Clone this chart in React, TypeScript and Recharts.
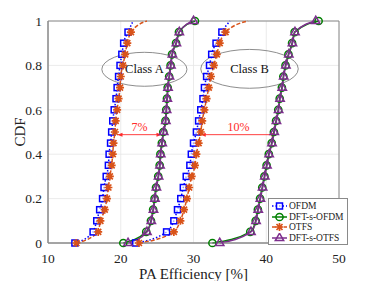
import React from 'react';
import { LineChart, Line, XAxis, YAxis, CartesianGrid, ReferenceArea, ReferenceLine, Legend } from 'recharts';

// CDF levels shared by every curve
const cdfLevels = [0, 0.05, 0.1, 0.15, 0.2, 0.25, 0.3, 0.35, 0.4, 0.45, 0.5, 0.55, 0.6, 0.65, 0.7, 0.75, 0.8, 0.85, 0.9, 0.95, 1];

// PA efficiency [%], class A
const ofdmClassA = [13.7, 16.2, 16.7, 17.1, 17.5, 17.7, 18.0, 18.3, 18.4, 18.6, 18.75, 18.9, 19.1, 19.35, 19.5, 19.7, 19.9, 20.15, 20.4, 21.0, 21.7];
const otfsClassA = [13.9, 16.9, 17.2, 17.8, 18.1, 18.3, 18.5, 18.75, 18.9, 19.0, 19.2, 19.3, 19.5, 19.7, 19.9, 20.0, 20.3, 20.6, 20.9, 21.4, 23.6];
const dftsOfdmClassA = [20.35, 23.5, 24.15, 24.45, 24.65, 24.85, 25.15, 25.35, 25.45, 25.65, 25.85, 26.15, 26.25, 26.35, 26.45, 26.65, 26.85, 27.05, 27.6, 28.0, 30.2];
const dftsOtfsClassA = [21.0, 23.6, 24.2, 24.5, 24.7, 24.9, 25.2, 25.4, 25.5, 25.7, 25.9, 26.2, 26.3, 26.4, 26.5, 26.7, 26.9, 27.1, 27.65, 28.05, 30.0];

// class B
const ofdmClassB = [22.05, 26.3, 27.3, 27.8, 28.25, 28.6, 29.0, 29.5, 29.7, 30.0, 30.4, 30.7, 31.0, 31.3, 31.5, 31.8, 32.2, 32.5, 33.1, 33.9, 35.0];
const otfsClassB = [22.5, 27.3, 28.2, 28.7, 29.1, 29.4, 29.75, 30.2, 30.4, 30.7, 31.0, 31.2, 31.5, 31.8, 32.1, 32.4, 32.8, 33.2, 33.6, 34.4, 37.5];
const dftsOfdmClassB = [32.6, 37.8, 38.55, 38.85, 39.15, 39.45, 39.75, 40.05, 40.35, 40.75, 41.05, 41.35, 41.65, 41.85, 42.15, 42.35, 42.65, 43.05, 43.55, 43.9, 47.2];
const dftsOtfsClassB = [33.6, 37.9, 38.6, 38.9, 39.2, 39.5, 39.8, 40.1, 40.4, 40.8, 41.1, 41.4, 41.7, 41.9, 42.2, 42.4, 42.7, 43.1, 43.6, 43.95, 46.8];

const xTicks = [10, 20, 30, 40, 50];
const yTicks = [0, 0.2, 0.4, 0.6, 0.8, 1];

const FONT = 'Liberation Serif, Tinos, Times New Roman, DejaVu Serif, serif';
const RED = '#ff2b2b';
const AXIS = '#8a8a8a';

type MarkerKind = 'square' | 'circle' | 'star' | 'triangle';

const SERIES = [
  { name: 'OFDM', color: '#0000ff', marker: 'square' as MarkerKind, dash: '1.5 2', openEnd: true, classA: ofdmClassA, classB: ofdmClassB },
  { name: 'DFT-s-OFDM', color: '#008000', marker: 'circle' as MarkerKind, dash: undefined, openEnd: false, classA: dftsOfdmClassA, classB: dftsOfdmClassB },
  { name: 'OTFS', color: '#d95319', marker: 'star' as MarkerKind, dash: '4 2', openEnd: true, classA: otfsClassA, classB: otfsClassB },
  { name: 'DFT-s-OTFS', color: '#7e2f8e', marker: 'triangle' as MarkerKind, dash: undefined, openEnd: false, classA: dftsOtfsClassA, classB: dftsOtfsClassB },
];

const Marker = ({ kind, cx, cy, color }: { kind: MarkerKind; cx: number; cy: number; color: string }) => {
  if (kind === 'square') {
    return <rect x={cx - 3} y={cy - 3} width={6} height={6} fill="#fff" fillOpacity={0.6} stroke={color} strokeWidth={1.5} />;
  }
  if (kind === 'circle') {
    return <circle cx={cx} cy={cy} r={3.6} fill="none" stroke={color} strokeWidth={1.5} />;
  }
  if (kind === 'star') {
    return (
      <path
        d={`M${cx - 4},${cy}H${cx + 4}M${cx},${cy - 4}V${cy + 4}M${cx - 3},${cy - 3}L${cx + 3},${cy + 3}M${cx - 3},${cy + 3}L${cx + 3},${cy - 3}`}
        stroke={color}
        strokeWidth={1.7}
        fill="none"
      />
    );
  }
  return <path d={`M${cx},${cy - 4.8}L${cx + 4.2},${cy + 2.6}L${cx - 4.2},${cy + 2.6}Z`} fill="none" stroke={color} strokeWidth={1.5} />;
};

const toPoints = (xs: number[]) => xs.map((x, i) => ({ x, cdf: cdfLevels[i] }));

const EllipseNote = (text: string) => (props: any) => {
  const { x, y, width, height } = props;
  return (
    <g>
      <ellipse cx={x + width / 2} cy={y + height / 2} rx={width / 2} ry={height / 2} fill="none" stroke="#707070" strokeWidth={0.8} />
      <text x={x + width / 2} y={y + height / 2 + 4} textAnchor="middle" fontFamily={FONT} fontSize={12.5} fill="#111">
        {text}
      </text>
    </g>
  );
};

const GapArrow = (text: string) => (props: any) => {
  const { x1, y1, x2, y2 } = props;
  return (
    <g>
      <line x1={x1} y1={y1} x2={x2} y2={y2} stroke={RED} strokeWidth={0.9} />
      <path d={`M${x1},${y1}L${x1 + 5},${y1 - 2}L${x1 + 5},${y1 + 2}Z`} fill={RED} />
      <path d={`M${x2},${y2}L${x2 - 5},${y2 - 2}L${x2 - 5},${y2 + 2}Z`} fill={RED} />
      <text x={(x1 + x2) / 2} y={y1 - 4} textAnchor="middle" fontFamily={FONT} fontSize={12} fill={RED}>
        {text}
      </text>
    </g>
  );
};

const LegendBox = () => (
  <div style={{ background: '#fff', border: `1px solid ${AXIS}`, padding: '2px 3px 1px 2px', fontFamily: FONT, fontSize: 9.5, color: '#222', lineHeight: '10.6px' }}>
    {SERIES.map((s) => (
      <div key={s.name} style={{ display: 'flex', alignItems: 'center', whiteSpace: 'nowrap' }}>
        <svg width={17} height={10} style={{ marginRight: 1 }}>
          <line x1={1} y1={5} x2={16} y2={5} stroke={s.color} strokeWidth={1.5} strokeDasharray={s.dash} />
          <Marker kind={s.marker} cx={8.5} cy={5} color={s.color} />
        </svg>
        <span>{s.name}</span>
      </div>
    ))}
  </div>
);

const App = () => {
  return (
    <div style={{ fontFamily: FONT }}>
      <LineChart width={366} height={273} margin={{ top: 13, right: 35, left: 0, bottom: 0 }} style={{ fontFamily: FONT }}>
        <CartesianGrid stroke="#e6e6e6" strokeWidth={0.8} />
        <XAxis
          dataKey="x"
          type="number"
          domain={[10, 50]}
          ticks={xTicks}
          allowDataOverflow
          height={38}
          tickSize={8}
          tickLine={false}
          axisLine={{ stroke: AXIS }}
          tick={{ fill: '#222', fontSize: 13.5, fontFamily: FONT }}
          label={{ value: 'PA Efficiency [%]', position: 'insideBottom', offset: 2, fill: '#222', fontSize: 15, fontFamily: FONT }}
        />
        <YAxis
          dataKey="cdf"
          type="number"
          domain={[0, 1]}
          ticks={yTicks}
          width={40}
          tickSize={4}
          tickLine={false}
          axisLine={{ stroke: AXIS }}
          tick={{ fill: '#222', fontSize: 13.5, fontFamily: FONT }}
          label={{ value: 'CDF', angle: -90, position: 'insideLeft', offset: 12, fill: '#222', fontSize: 15, fontFamily: FONT, style: { textAnchor: 'middle' } }}
        />
        <ReferenceArea x1={10} x2={50} y1={0} y2={1} fill="none" stroke={AXIS} strokeWidth={1} strokeOpacity={1} />
        <ReferenceArea x1={17.4} x2={29.1} y1={0.706} y2={0.859} shape={EllipseNote('Class A')} ifOverflow="visible" />
        <ReferenceArea x1={31.0} x2={44.4} y1={0.697} y2={0.872} shape={EllipseNote('Class B')} ifOverflow="visible" />
        <ReferenceLine segment={[{ x: 19.55, y: 0.488 }, { x: 25.6, y: 0.488 }]} shape={GapArrow('7%')} />
        <ReferenceLine segment={[{ x: 31.0, y: 0.488 }, { x: 41.4, y: 0.488 }]} shape={GapArrow('10%')} />
        {SERIES.flatMap((s) =>
          [
            { cls: 'A', xs: s.classA },
            { cls: 'B', xs: s.classB },
          ].map(({ cls, xs }) => (
            <Line
              key={`${s.name}-${cls}`}
              data={toPoints(xs)}
              dataKey="cdf"
              name={s.name}
              type="monotone"
              stroke={s.color}
              strokeWidth={1.5}
              strokeDasharray={s.dash}
              isAnimationActive={false}
              activeDot={false}
              legendType={cls === 'A' ? 'line' : 'none'}
              dot={(p: any) =>
                s.openEnd && p.index === xs.length - 1 ? (
                  <g key={`d-${p.index}`} />
                ) : (
                  <g key={`d-${p.index}`}>
                    <Marker kind={s.marker} cx={p.cx} cy={p.cy} color={s.color} />
                  </g>
                )
              }
            />
          ))
        )}
        <Legend layout="vertical" align="center" verticalAlign="middle" content={() => <LegendBox />} wrapperStyle={{ left: 260, top: 190, width: 'auto' }} />
      </LineChart>
    </div>
  );
};

export default App;
